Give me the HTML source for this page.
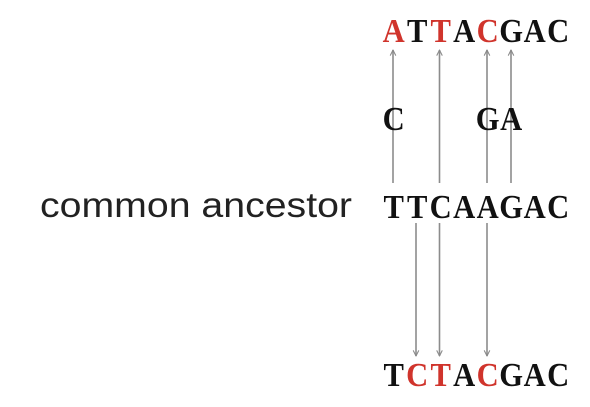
<!DOCTYPE html>
<html><head><style>html,body{margin:0;padding:0;background:#fff;}
.m text{font-family:"Liberation Serif",serif;font-weight:bold;font-size:34px;text-anchor:middle;fill:#111;}
.m text.r{fill:#d0342c;}
</style></head>
<body>
<svg width="590" height="402" viewBox="0 0 590 402" xmlns="http://www.w3.org/2000/svg">
<defs>
<marker id="ah" viewBox="0 0 10 10" refX="9" refY="5" markerWidth="7" markerHeight="7" orient="auto" markerUnits="userSpaceOnUse">
<path d="M1,1 L9,5 L1,9" fill="none" stroke="#888" stroke-width="1.5"/>
</marker>
</defs>
<g stroke="#8c8c8c" stroke-width="1.6" fill="none" marker-end="url(#ah)">
<line x1="393" y1="183" x2="393" y2="50"/>
<line x1="439.5" y1="183" x2="439.5" y2="50"/>
<line x1="487" y1="183" x2="487" y2="50"/>
<line x1="511" y1="183" x2="511" y2="50"/>
<line x1="416" y1="223" x2="416" y2="356"/>
<line x1="439.5" y1="223" x2="439.5" y2="356"/>
<line x1="487" y1="223" x2="487" y2="356"/>
</g>
<g class="m">
<text class="r" transform="translate(393.7,42) scale(0.9,1)">A</text>
<text transform="translate(417.2,42) scale(0.9,1)">T</text>
<text class="r" transform="translate(440.7,42) scale(0.9,1)">T</text>
<text transform="translate(464.2,42) scale(0.9,1)">A</text>
<text class="r" transform="translate(487.7,42) scale(0.9,1)">C</text>
<text transform="translate(511.2,42) scale(0.9,1)">G</text>
<text transform="translate(534.7,42) scale(0.9,1)">A</text>
<text transform="translate(558.2,42) scale(0.9,1)">C</text>

<text transform="translate(393.7,130) scale(0.9,1)">C</text>
<text transform="translate(487.7,130) scale(0.9,1)">G</text>
<text transform="translate(511.2,130) scale(0.9,1)">A</text>

<text transform="translate(393.7,218) scale(0.9,1)">T</text>
<text transform="translate(417.2,218) scale(0.9,1)">T</text>
<text transform="translate(440.7,218) scale(0.9,1)">C</text>
<text transform="translate(464.2,218) scale(0.9,1)">A</text>
<text transform="translate(487.7,218) scale(0.9,1)">A</text>
<text transform="translate(511.2,218) scale(0.9,1)">G</text>
<text transform="translate(534.7,218) scale(0.9,1)">A</text>
<text transform="translate(558.2,218) scale(0.9,1)">C</text>

<text transform="translate(393.7,386) scale(0.9,1)">T</text>
<text class="r" transform="translate(417.2,386) scale(0.9,1)">C</text>
<text class="r" transform="translate(440.7,386) scale(0.9,1)">T</text>
<text transform="translate(464.2,386) scale(0.9,1)">A</text>
<text class="r" transform="translate(487.7,386) scale(0.9,1)">C</text>
<text transform="translate(511.2,386) scale(0.9,1)">G</text>
<text transform="translate(534.7,386) scale(0.9,1)">A</text>
<text transform="translate(558.2,386) scale(0.9,1)">C</text>
</g>
<text x="40" y="217" font-family="Liberation Sans, sans-serif" font-size="35" fill="#222" textLength="312" lengthAdjust="spacingAndGlyphs">common ancestor</text>
</svg>
</body></html>
